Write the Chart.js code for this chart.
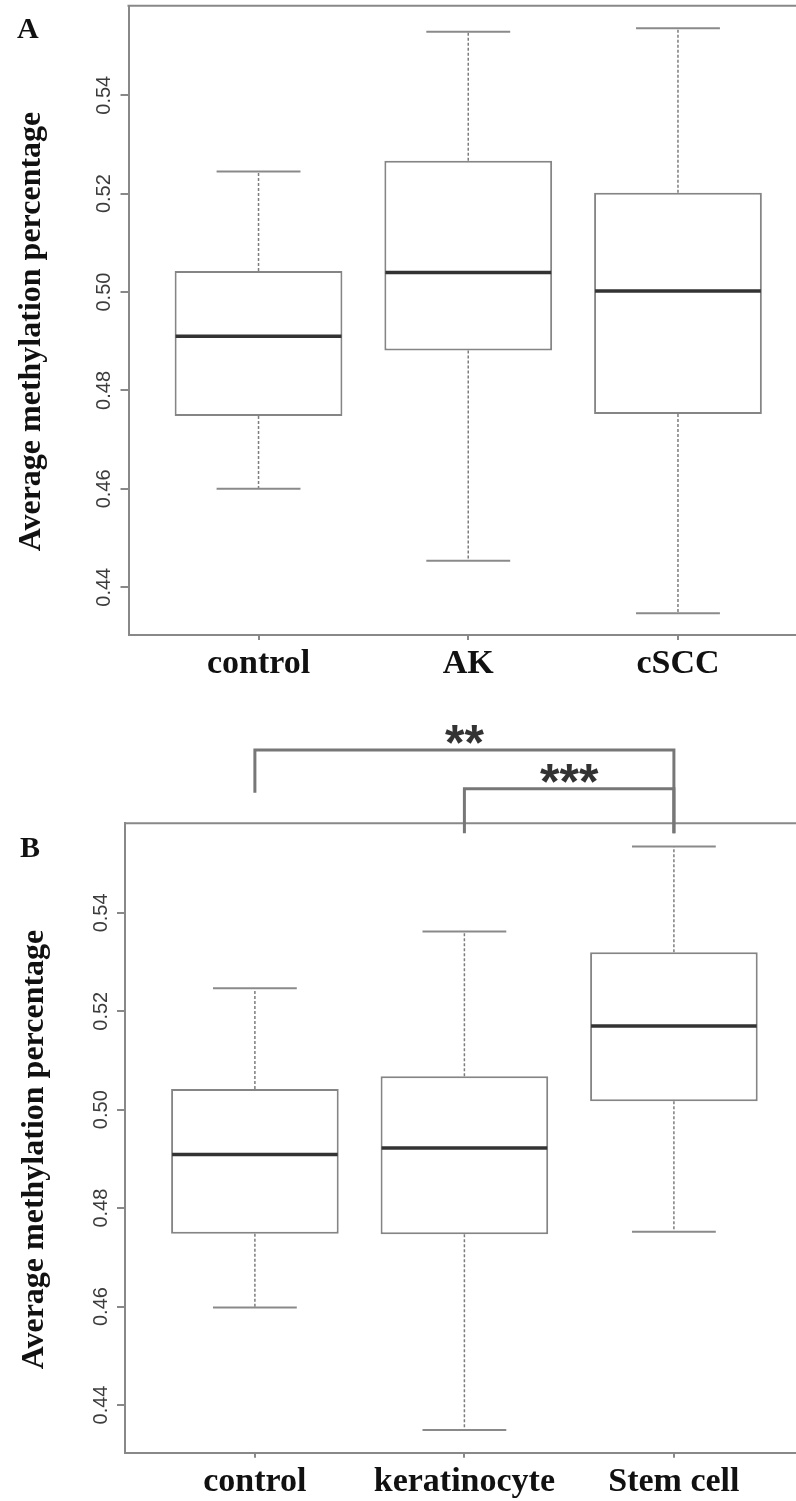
<!DOCTYPE html>
<html>
<head>
<meta charset="utf-8">
<script src="https://cdn.jsdelivr.net/npm/chart.js@4.4.1/dist/chart.umd.min.js"></script>
<style>
  html, body { margin: 0; padding: 0; background: #fff; overflow: hidden; width: 796px; height: 1501px; }
  canvas { position: absolute; left: 0; }
  #chartA { top: 0; }
  #chartB { top: 700px; }
</style>
</head>
<body>
<canvas id="chartA" width="840" height="700"></canvas>
<canvas id="chartB" width="840" height="801"></canvas>
<script>
// Panel A: control / AK / cSCC
var categoriesA = ['control', 'AK', 'cSCC'];
var lowerA  = [0.4600, 0.4454, 0.4347];
var q1A     = [0.4748, 0.4881, 0.4752];
var medianA = [0.4910, 0.5040, 0.5002];
var q3A     = [0.5043, 0.5267, 0.5202];
var upperA  = [0.5245, 0.5529, 0.5536];

// Panel B: control / keratinocyte / Stem cell
var categoriesB = ['control', 'keratinocyte', 'Stem cell'];
var lowerB  = [0.4598, 0.4349, 0.4752];
var q1B     = [0.4748, 0.4747, 0.5017];
var medianB = [0.4909, 0.4922, 0.5170];
var q3B     = [0.5042, 0.5068, 0.5320];
var upperB  = [0.5247, 0.5362, 0.5535];

var yTicks = [0.44, 0.46, 0.48, 0.50, 0.52, 0.54];
var yMin = 0.4303, yMax = 0.5582;

// significance brackets drawn above panel B
var sigFrom   = [1, 2];
var sigTo     = [3, 3];
var sigLevel  = [0.5731, 0.5652];
var sigLegEnd = [[0.5644, 0.5562], [0.5562, 0.5562]];
var sigLabel  = ['**', '***'];

Chart.defaults.font.family = '"Liberation Sans", Arial, sans-serif';

function seg(ctx, x1, y1, x2, y2) {
    ctx.beginPath();
    ctx.moveTo(x1, y1);
    ctx.lineTo(x2, y2);
    ctx.stroke();
}

var boxExtras = {
    id: 'boxExtras',
    afterDatasetsDraw: function(chart) {
        var ctx = chart.ctx, x = chart.scales.x, y = chart.scales.y;
        var ds = chart.data.datasets[0];
        var bars = chart.getDatasetMeta(0).data;
        ctx.save();
        ds.median.forEach(function(m, i) {
            var cx = x.getPixelForValue(i + 1);
            var half = bars[i].width / 2;
            var yHi = y.getPixelForValue(ds.upper[i]);
            var yLo = y.getPixelForValue(ds.lower[i]);
            // dotted whiskers
            ctx.strokeStyle = '#7d7d7d';
            ctx.lineWidth = 1.5;
            ctx.setLineDash([3, 2]);
            seg(ctx, cx, y.getPixelForValue(ds.q3[i]), cx, yHi);
            seg(ctx, cx, y.getPixelForValue(ds.q1[i]), cx, yLo);
            // staples
            ctx.setLineDash([]);
            ctx.lineWidth = 2;
            ctx.strokeStyle = '#8a8a8a';
            seg(ctx, cx - half / 2, yHi, cx + half / 2, yHi);
            seg(ctx, cx - half / 2, yLo, cx + half / 2, yLo);
            // median
            ctx.strokeStyle = '#333';
            ctx.lineWidth = 3.5;
            var ym = y.getPixelForValue(m);
            seg(ctx, cx - half + 1, ym, cx + half - 1, ym);
        });
        ctx.restore();
    },
    afterDraw: function(chart, args, opts) {
        var ctx = chart.ctx, x = chart.scales.x, y = chart.scales.y;
        var area = chart.chartArea;
        ctx.save();
        // rest of the box frame (top and right)
        ctx.strokeStyle = '#888';
        ctx.lineWidth = 2;
        seg(ctx, area.left - 1, area.top, area.right, area.top);
        seg(ctx, area.right, area.top, area.right, area.bottom);

        // y tick labels, rotated like R (las = 0)
        ctx.fillStyle = '#3c3c3c';
        ctx.font = '20px "Liberation Sans", Arial, sans-serif';
        ctx.textAlign = 'center';
        ctx.textBaseline = 'middle';
        y.ticks.forEach(function(t) {
            ctx.save();
            ctx.translate(opts.labelX, y.getPixelForValue(t.value));
            ctx.rotate(-Math.PI / 2);
            ctx.fillText(t.value.toFixed(2), 0, 0);
            ctx.restore();
        });

        // y axis title
        ctx.fillStyle = '#111';
        ctx.font = 'bold 32px "Liberation Serif", "Times New Roman", serif';
        ctx.textBaseline = 'alphabetic';
        ctx.save();
        ctx.translate(opts.titleX, opts.titleY);
        ctx.rotate(-Math.PI / 2);
        ctx.fillText('Average methylation percentage', 0, 0);
        ctx.restore();

        // panel letter
        ctx.font = 'bold 30px "Liberation Serif", "Times New Roman", serif';
        ctx.textAlign = 'left';
        ctx.fillText(opts.letter, opts.letterX, opts.letterY);

        if (opts.brackets) {
            ctx.strokeStyle = '#777';
            ctx.lineWidth = 3;
            ctx.lineCap = 'butt';
            ctx.fillStyle = '#333';
            ctx.font = 'bold 50px "Liberation Sans", Arial, sans-serif';
            ctx.textAlign = 'center';
            sigFrom.forEach(function(f, i) {
                var x1 = x.getPixelForValue(f), x2 = x.getPixelForValue(sigTo[i]);
                var yl = y.getPixelForValue(sigLevel[i]);
                ctx.beginPath();
                ctx.moveTo(x1, y.getPixelForValue(sigLegEnd[i][0]));
                ctx.lineTo(x1, yl);
                ctx.lineTo(x2, yl);
                ctx.lineTo(x2, y.getPixelForValue(sigLegEnd[i][1]));
                ctx.stroke();
                var m = ctx.measureText(sigLabel[i]);
                var mid = (m.actualBoundingBoxAscent - m.actualBoundingBoxDescent) / 2;
                ctx.fillText(sigLabel[i], (x1 + x2) / 2, yl - 15 + mid);
            });
        }
        ctx.restore();
    }
};

function makeBoxChart(canvasId, cats, lower, q1, median, q3, upper, frame, extras) {
    var boxes = cats.map(function(c, i) {
        return { x: i + 1, y: [q1[i], q3[i]] };
    });
    return new Chart(document.getElementById(canvasId), {
        type: 'bar',
        data: {
            datasets: [{
                data: boxes,
                lower: lower, q1: q1, median: median, q3: q3, upper: upper,
                backgroundColor: '#fff',
                borderColor: '#858585',
                borderWidth: 2,
                borderSkipped: false,
                barPercentage: 0.8,
                categoryPercentage: 1,
                grouped: false
            }]
        },
        options: {
            responsive: false,
            animation: false,
            events: [],
            layout: { padding: { left: 0, top: frame.top, right: frame.right, bottom: 0 } },
            plugins: {
                legend: { display: false },
                tooltip: { enabled: false },
                boxExtras: extras
            },
            scales: {
                x: {
                    type: 'linear',
                    min: 0.38,
                    max: 3.62,
                    offset: false,
                    afterBuildTicks: function(axis) {
                        axis.ticks = cats.map(function(c, i) { return { value: i + 1 }; });
                    },
                    afterFit: function(scale) { scale.height = frame.xHeight; },
                    ticks: {
                        autoSkip: false,
                        maxRotation: 0,
                        padding: 4,
                        color: '#111',
                        font: { family: '"Liberation Serif", "Times New Roman", serif', size: 34, weight: 'bold' },
                        callback: function(v) { return cats[Math.round(v) - 1]; }
                    },
                    grid: { offset: false, drawOnChartArea: false, drawTicks: true, tickLength: 5, color: '#888', lineWidth: 2 },
                    border: { display: true, color: '#888', width: 2 }
                },
                y: {
                    type: 'linear',
                    min: yMin,
                    max: yMax,
                    afterBuildTicks: function(axis) {
                        axis.ticks = yTicks.map(function(v) { return { value: v }; });
                    },
                    afterFit: function(scale) { scale.width = frame.yWidth; },
                    ticks: { display: false },
                    grid: { drawOnChartArea: false, drawTicks: true, tickLength: 8, color: '#888', lineWidth: 2 },
                    border: { display: true, color: '#888', width: 2 }
                }
            }
        },
        plugins: [boxExtras]
    });
}

makeBoxChart('chartA', categoriesA, lowerA, q1A, medianA, q3A, upperA,
    { top: 5.7, right: 840 - 808, xHeight: 65, yWidth: 128.5 },
    { letter: 'A', letterX: 17, letterY: 38, labelX: 104, titleX: 40, titleY: 331.5, brackets: false });

makeBoxChart('chartB', categoriesB, lowerB, q1B, medianB, q3B, upperB,
    { top: 123.3, right: 840 - 803.8, xHeight: 48.3, yWidth: 125 },
    { letter: 'B', letterX: 20, letterY: 157, labelX: 101, titleX: 43, titleY: 449.5, brackets: true });
</script>
</body>
</html>
